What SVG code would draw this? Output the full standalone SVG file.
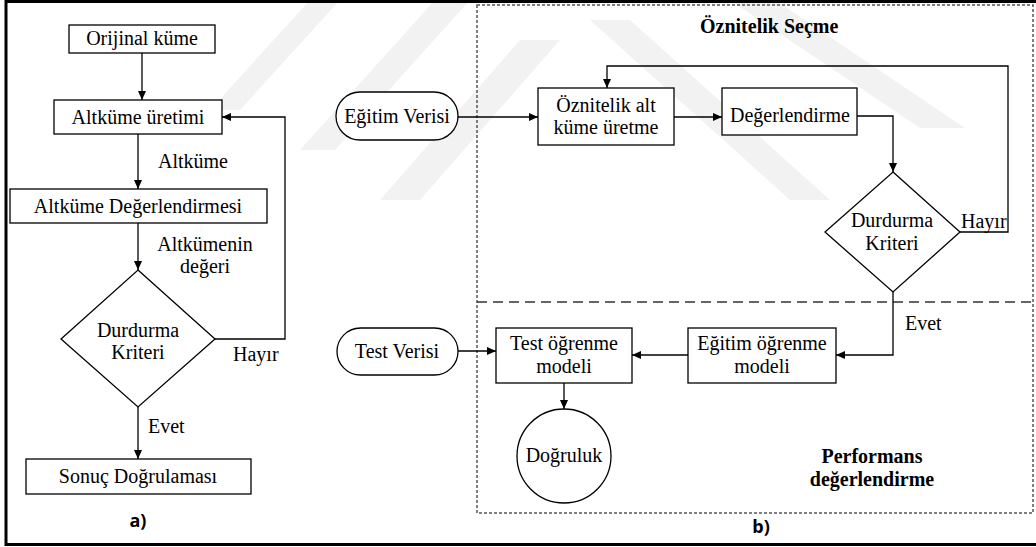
<svg xmlns="http://www.w3.org/2000/svg" width="1036" height="547" viewBox="0 0 1036 547">
  <defs>
    <marker id="arrow" markerWidth="9" markerHeight="8" refX="9" refY="4" orient="auto" markerUnits="userSpaceOnUse">
      <path d="M0,0 L9,4 L0,8 Z" fill="#000"/>
    </marker>
    <style>
      .box { fill: #fff; stroke: #000; stroke-width: 1.3; }
      .edge { fill: none; stroke: #000; stroke-width: 1.3; }
      .t { font-family: 'Liberation Serif', 'DejaVu Serif', serif; font-size: 20px; fill: #000; }
      .c { text-anchor: middle; }
      .b { font-weight: bold; }
      .tag { font-family: 'Open Sans', 'Liberation Sans', sans-serif; font-size: 18px; font-weight: bold; text-anchor: middle; fill: #000; }
      .wm { fill: #f2f2f2; }
      .frame { fill: none; stroke: #000; stroke-width: 3; }
      .zone { fill: none; stroke: #555; stroke-width: 1.5; stroke-dasharray: 3 2; }
      .split { fill: none; stroke: #333; stroke-width: 1.5; stroke-dasharray: 10 6; }
    </style>
  </defs>

  <rect width="1036" height="547" fill="#fff"/>

  <!-- faint background stripes -->
  <g id="watermark">
    <polygon class="wm" points="210,110 240,110 340,0 310,0"/>
    <polygon class="wm" points="300,150 335,150 470,0 435,0"/>
    <polygon class="wm" points="380,200 420,200 560,40 520,40"/>
    <polygon class="wm" points="590,20 630,20 830,200 790,200"/>
    <polygon class="wm" points="730,0 775,0 965,128 920,128"/>
  </g>

  <rect class="frame" x="6" y="1.5" width="1034" height="543"/>

  <!-- panel b regions -->
  <rect class="zone" x="477" y="5" width="556" height="508"/>
  <line class="split" x1="477" y1="302" x2="1033" y2="302"/>
  <text class="t b" x="700" y="33">Öznitelik Seçme</text>
  <text class="t b c" x="872" y="463">Performans</text>
  <text class="t b c" x="872" y="486">değerlendirme</text>

  <!-- connectors -->
  <g id="connectors">
    <line class="edge" x1="142" y1="53" x2="142" y2="100" marker-end="url(#arrow)"/>
    <line class="edge" x1="138" y1="134" x2="138" y2="189" marker-end="url(#arrow)"/>
    <line class="edge" x1="138" y1="223" x2="138" y2="270" marker-end="url(#arrow)"/>
    <polyline class="edge" points="215,339 285,339 285,117 222,117" marker-end="url(#arrow)"/>
    <line class="edge" x1="138" y1="407" x2="138" y2="459" marker-end="url(#arrow)"/>

    <line class="edge" x1="458" y1="117" x2="538" y2="117" marker-end="url(#arrow)"/>
    <line class="edge" x1="674" y1="117" x2="722" y2="117" marker-end="url(#arrow)"/>
    <polyline class="edge" points="857,116 893,116 893,172" marker-end="url(#arrow)"/>
    <polyline class="edge" points="960,232 1008,232 1008,66 607,66 607,88" marker-end="url(#arrow)"/>
    <polyline class="edge" points="893,292 893,355 836,355" marker-end="url(#arrow)"/>
    <line class="edge" x1="688" y1="355" x2="632" y2="355" marker-end="url(#arrow)"/>
    <line class="edge" x1="458" y1="351" x2="496" y2="351" marker-end="url(#arrow)"/>
    <line class="edge" x1="564" y1="383" x2="564" y2="409" marker-end="url(#arrow)"/>
  </g>

  <!-- connector labels -->
  <text class="t" x="158" y="168">Altküme</text>
  <text class="t c" x="205" y="251">Altkümenin</text>
  <text class="t c" x="205" y="273">değeri</text>
  <text class="t" x="233" y="361">Hayır</text>
  <text class="t" x="148" y="433">Evet</text>
  <text class="t" x="961" y="228">Hayır</text>
  <text class="t" x="905" y="330">Evet</text>

  <!-- panel a nodes -->
  <g id="orijinal-kume">
    <rect class="box" x="69" y="25" width="146" height="28"/>
    <text class="t c" x="142" y="45">Orijinal küme</text>
  </g>
  <g id="altkume-uretimi">
    <rect class="box" x="54" y="100" width="168" height="34"/>
    <text class="t c" x="138" y="124">Altküme üretimi</text>
  </g>
  <g id="altkume-degerlendirmesi">
    <rect class="box" x="10" y="189" width="257" height="34"/>
    <text class="t c" x="138" y="213">Altküme Değerlendirmesi</text>
  </g>
  <g id="durdurma-a">
    <polygon class="box" points="138,270 215,339 138,407 61,339"/>
    <text class="t c" x="138" y="337">Durdurma</text>
    <text class="t c" x="138" y="359">Kriteri</text>
  </g>
  <g id="sonuc-dogrulamasi">
    <rect class="box" x="26" y="459" width="225" height="35"/>
    <text class="t c" x="138" y="483">Sonuç Doğrulaması</text>
  </g>
  <text class="tag" x="138" y="527">a)</text>

  <!-- panel b nodes -->
  <g id="egitim-verisi">
    <rect class="box" x="336" y="92" width="122" height="48" rx="24"/>
    <text class="t c" x="397" y="123">Eğitim Verisi</text>
  </g>
  <g id="oznitelik-alt-kume">
    <rect class="box" x="538" y="88" width="136" height="57"/>
    <text class="t c" x="606" y="112">Öznitelik alt</text>
    <text class="t c" x="606" y="134">küme üretme</text>
  </g>
  <g id="degerlendirme">
    <rect class="box" x="722" y="88" width="135" height="47"/>
    <text class="t c" x="790" y="122">Değerlendirme</text>
  </g>
  <g id="durdurma-b">
    <polygon class="box" points="893,172 960,232 893,292 825,232"/>
    <text class="t c" x="892" y="227">Durdurma</text>
    <text class="t c" x="892" y="250">Kriteri</text>
  </g>
  <g id="egitim-ogrenme">
    <rect class="box" x="688" y="328" width="148" height="55"/>
    <text class="t c" x="762" y="350">Eğitim öğrenme</text>
    <text class="t c" x="762" y="373">modeli</text>
  </g>
  <g id="test-ogrenme">
    <rect class="box" x="496" y="328" width="136" height="55"/>
    <text class="t c" x="564" y="350">Test öğrenme</text>
    <text class="t c" x="564" y="373">modeli</text>
  </g>
  <g id="test-verisi">
    <rect class="box" x="337" y="328" width="121" height="47" rx="23.5"/>
    <text class="t c" x="397" y="358">Test Verisi</text>
  </g>
  <g id="dogruluk">
    <circle class="box" cx="564" cy="456" r="47"/>
    <text class="t c" x="564" y="462">Doğruluk</text>
  </g>
  <text class="tag" x="761" y="533">b)</text>
</svg>
